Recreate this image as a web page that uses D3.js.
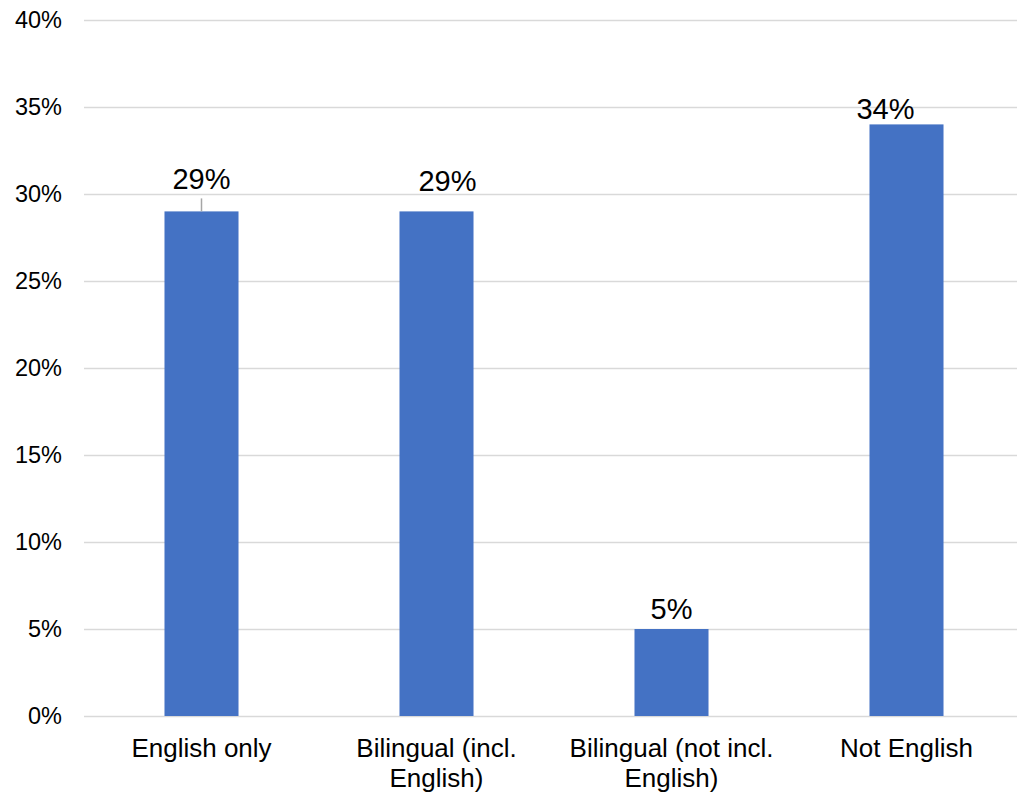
<!DOCTYPE html>
<html>
<head>
<meta charset="utf-8">
<script src="https://cdn.jsdelivr.net/npm/d3@7"></script>
<style>
  body { margin: 0; background: #fff; }
  text { font-family: "Liberation Sans", Arial, sans-serif; fill: #000; }
</style>
</head>
<body>
<div id="chart"></div>
<script>
const categories = [["English only"], ["Bilingual (incl.", "English)"], ["Bilingual (not incl.", "English)"], ["Not English"]];
const values = [0.29, 0.29, 0.05, 0.34];
const yTicks = [0, 0.05, 0.10, 0.15, 0.20, 0.25, 0.30, 0.35, 0.40];

// label nudges, Excel moved a few of them by hand
const labelNudge = [[0, -22], [11, -20], [0, -10], [-21, -5]];

const width = 1017, height = 795;
const margin = { top: 20, right: -7, bottom: 79, left: 84 };

const svg = d3.select("#chart").append("svg")
  .attr("width", width)
  .attr("height", height);

const x = d3.scaleBand()
  .domain(d3.range(categories.length))
  .range([margin.left, width - margin.right])
  .paddingInner(0.685)
  .paddingOuter(0.3425);

const y = d3.scaleLinear()
  .domain([0, 0.40])
  .range([height - margin.bottom, margin.top]);

// gridlines + tick labels
const yAxis = svg.append("g")
  .attr("transform", `translate(${margin.left},0)`)
  .call(d3.axisLeft(y).tickValues(yTicks).tickFormat(d3.format(".0%"))
    .tickSize(-(width - margin.left - margin.right)).tickPadding(22));
yAxis.select(".domain").remove();
yAxis.selectAll(".tick line").attr("stroke", "#d9d9d9").attr("stroke-width", 1.5);
yAxis.selectAll(".tick text").attr("font-size", 23.5);

// bars
svg.append("g").selectAll("rect")
  .data(values)
  .join("rect")
  .attr("x", (d, i) => x(i))
  .attr("width", x.bandwidth())
  .attr("y", d => y(d))
  .attr("height", d => y(0) - y(d))
  .attr("fill", "#4472c4");

// leader line for the first label
svg.append("line")
  .attr("x1", x(0) + x.bandwidth() / 2)
  .attr("x2", x(0) + x.bandwidth() / 2)
  .attr("y1", y(values[0]) - 13)
  .attr("y2", y(values[0]))
  .attr("stroke", "#a6a6a6")
  .attr("stroke-width", 1.5);

// data labels
svg.append("g").selectAll("text")
  .data(values)
  .join("text")
  .attr("x", (d, i) => x(i) + x.bandwidth() / 2 + labelNudge[i][0])
  .attr("y", (d, i) => y(d) + labelNudge[i][1])
  .attr("text-anchor", "middle")
  .attr("font-size", 29)
  .text(d => d3.format(".0%")(d));

// category labels
svg.append("g").selectAll("text")
  .data(categories)
  .join("text")
  .attr("x", (d, i) => x(i) + x.bandwidth() / 2)
  .attr("y", y(0) + 41)
  .attr("text-anchor", "middle")
  .attr("font-size", 26)
  .selectAll("tspan")
  .data(d => d)
  .join("tspan")
  .attr("x", function () { return d3.select(this.parentNode).attr("x"); })
  .attr("dy", (d, i) => i ? 30 : 0)
  .text(d => d);
</script>
</body>
</html>
